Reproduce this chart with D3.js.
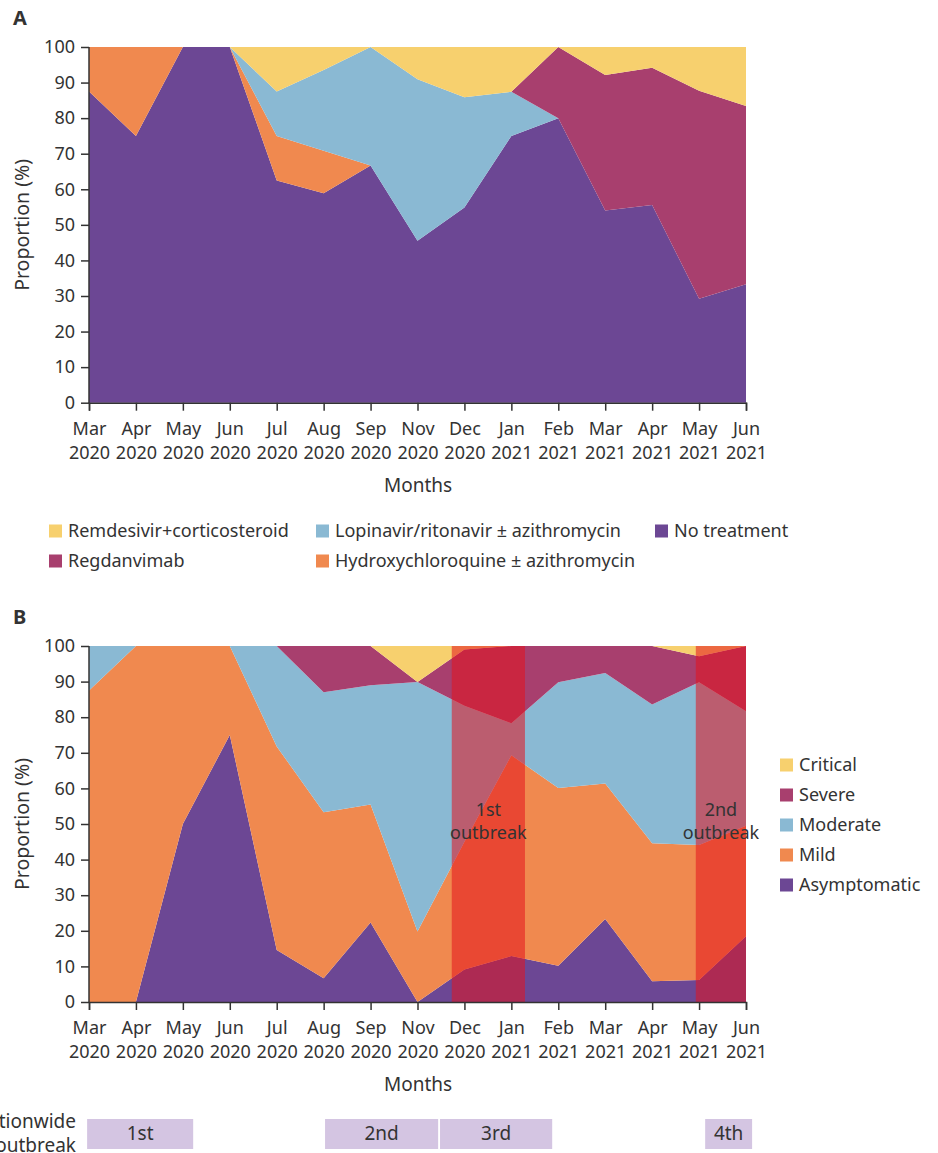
<!DOCTYPE html>
<html>
<head>
<meta charset="utf-8">
<script src="https://cdn.jsdelivr.net/npm/d3@7"></script>
<style>
  body { margin: 0; background: #fff; }
  text { font-family: "Noto Sans", sans-serif; fill: #333; }
</style>
</head>
<body>
<script>
// 月份（两行标签）
var months = ["Mar", "Apr", "May", "Jun", "Jul", "Aug", "Sep", "Nov", "Dec", "Jan", "Feb", "Mar", "Apr", "May", "Jun"];
var years  = ["2020", "2020", "2020", "2020", "2020", "2020", "2020", "2020", "2020", "2021", "2021", "2021", "2021", "2021", "2021"];
var yTicks = [0, 10, 20, 30, 40, 50, 60, 70, 80, 90, 100];

// 图 A：治疗方式（%）
var noTreatment = [87.5, 75, 100, 100, 62.5, 58.9, 66.7, 45.5, 54.9, 75, 80, 54, 55.6, 29.2, 33.3];
var hcq         = [12.5, 25, 0, 0, 12.5, 11.9, 0, 0, 0, 0, 0, 0, 0, 0, 0];
var lopinavir   = [0, 0, 0, 0, 12.5, 22.7, 33.3, 45.4, 31, 12.4, 0, 0, 0, 0, 0];
var regdanvimab = [0, 0, 0, 0, 0, 0, 0, 0, 0, 0, 20, 38.1, 38.6, 58.5, 50.1];
var remdesivir  = [0, 0, 0, 0, 12.5, 6.5, 0, 9.1, 14.1, 12.6, 0, 7.9, 5.8, 12.3, 16.6];

// 图 B：严重程度（%）
var asymptomatic = [0, 0, 50, 75, 14.6, 6.7, 22.3, 0, 9.1, 12.9, 10.2, 23.3, 5.8, 6.2, 18.5];
var mild         = [87.5, 100, 50, 25, 57.2, 46.6, 33.2, 19.8, 35.9, 56.4, 49.9, 38.1, 38.8, 37.9, 31];
var moderate     = [12.5, 0, 0, 0, 28.2, 33.7, 33.5, 70.1, 38.2, 9, 29.7, 31, 39, 45.7, 32.2];
var severe       = [0, 0, 0, 0, 0, 13, 11, 0, 15.8, 21.7, 10.2, 7.6, 16.4, 7.3, 18.3];
var critical     = [0, 0, 0, 0, 0, 0, 0, 10.1, 1, 0, 0, 0, 0, 2.9, 0];

// 医院内暴发期（月份索引）
var outbreakStart = [7.73, 12.93];
var outbreakEnd   = [9.29, 14];
var outbreakName  = ["1st", "2nd"];

// 全国流行期（月份索引）
var waveStart = [-0.04, 5.03, 7.48, 13.13];
var waveEnd   = [2.22, 7.44, 9.87, 14.13];
var waveName  = ["1st", "2nd", "3rd", "4th"];

var C = {
  purple: "#6c4794", orange: "#f0894f", blue: "#8ab9d3",
  crimson: "#a83f6e", yellow: "#f7d06e"
};

var width = 938, height = 1153;
var svg = d3.select("body").append("svg")
  .attr("width", width).attr("height", height);

var x = d3.scaleLinear().domain([0, months.length - 1]).range([89, 746]);

function panel(top, bottom, keys, series, colors, letter) {
  var y = d3.scaleLinear().domain([0, 100]).range([bottom, top]);
  var g = svg.append("g");

  var rows = months.map(function(m, i) {
    var r = { i: i };
    keys.forEach(function(k, j) { r[k] = series[j][i]; });
    return r;
  });
  var stack = d3.stack().keys(keys)(rows);

  var area = d3.area()
    .x(function(d) { return x(d.data.i); })
    .y0(function(d) { return y(d[0]); })
    .y1(function(d) { return y(d[1]); });

  g.selectAll(".layer").data(stack).enter().append("path")
    .attr("d", area)
    .attr("fill", function(d, j) { return colors[j]; });

  // 字母
  svg.append("text").attr("x", 13).attr("y", top - 22)
    .style("font-weight", "bold").style("font-size", "20px").text(letter);

  g.draw = function() {
    var yAxis = d3.axisLeft(y).tickValues(yTicks).tickSize(8).tickPadding(6);
    var ya = svg.append("g").attr("transform", "translate(89,0)").call(yAxis);
    var xAxis = d3.axisBottom(x).tickValues(d3.range(months.length)).tickSize(8).tickFormat("");
    var xa = svg.append("g").attr("transform", "translate(0," + bottom + ")").call(xAxis);
    [ya, xa].forEach(function(a) {
      a.select(".domain").attr("stroke", "#333").attr("stroke-width", 1.5);
      a.selectAll(".tick line").attr("stroke", "#333").attr("stroke-width", 1.5);
      a.selectAll("text").style("font-size", "18px").attr("fill", "#333");
    });
    ya.select(".domain").attr("d", "M0," + (bottom + 0.5) + "V" + top);
    xa.selectAll(".tick").each(function(d) {
      var t = d3.select(this).append("text").attr("text-anchor", "middle")
        .style("font-size", "18px").attr("fill", "#333");
      t.append("tspan").attr("x", 0).attr("y", 32).text(months[d]);
      t.append("tspan").attr("x", 0).attr("y", 56).text(years[d]);
    });
    svg.append("text").attr("x", 418).attr("y", bottom + 89)
      .attr("text-anchor", "middle").style("font-size", "19px").text("Months");
    svg.append("text")
      .attr("transform", "translate(29," + ((top + bottom) / 2) + ") rotate(-90)")
      .attr("text-anchor", "middle").style("font-size", "19.5px").text("Proportion (%)");
  };
  return g;
}

// ---- 图 A ----
var pa = panel(47, 402.7,
  ["none", "hcq", "lop", "reg", "rem"],
  [noTreatment, hcq, lopinavir, regdanvimab, remdesivir],
  [C.purple, C.orange, C.blue, C.crimson, C.yellow], "A");
pa.draw();

var legA = [
  ["Remdesivir+corticosteroid", C.yellow, 49, 531],
  ["Lopinavir/ritonavir \u00b1 azithromycin", C.blue, 316, 531],
  ["No treatment", C.purple, 655, 531],
  ["Regdanvimab", C.crimson, 49, 561],
  ["Hydroxychloroquine \u00b1 azithromycin", C.orange, 316, 561]
];
legA.forEach(function(l) {
  svg.append("rect").attr("x", l[2]).attr("y", l[3] - 6.5)
    .attr("width", 13).attr("height", 13).attr("fill", l[1]);
  svg.append("text").attr("x", l[2] + 19).attr("y", l[3] + 6)
    .style("font-size", "18px").text(l[0]);
});

// ---- 图 B ----
var pb = panel(646, 1002,
  ["asym", "mild", "mod", "sev", "crit"],
  [asymptomatic, mild, moderate, severe, critical],
  [C.purple, C.orange, C.blue, C.crimson, C.yellow], "B");

// 暴发期红色遮罩
outbreakName.forEach(function(n, i) {
  var x0 = x(outbreakStart[i]), x1 = x(outbreakEnd[i]);
  svg.append("rect").attr("x", x0).attr("y", 646)
    .attr("width", x1 - x0).attr("height", 1002 - 646)
    .attr("fill", "rgb(228,18,30)").attr("opacity", 0.55);
  var t = svg.append("text").attr("text-anchor", "middle").style("font-size", "18px");
  t.append("tspan").attr("x", (x0 + x1) / 2).attr("y", 816).text(n);
  t.append("tspan").attr("x", (x0 + x1) / 2).attr("y", 839).text("outbreak");
});
pb.draw();

var legB = [["Critical", C.yellow], ["Severe", C.crimson], ["Moderate", C.blue],
            ["Mild", C.orange], ["Asymptomatic", C.purple]];
legB.forEach(function(l, i) {
  var cy = 765 + i * 30;
  svg.append("rect").attr("x", 780).attr("y", cy - 6.5)
    .attr("width", 13).attr("height", 13).attr("fill", l[1]);
  svg.append("text").attr("x", 799).attr("y", cy + 6)
    .style("font-size", "18px").text(l[0]);
});

// 全国流行期
var nt = svg.append("text").attr("text-anchor", "end").style("font-size", "19px");
nt.append("tspan").attr("x", 76).attr("y", 1128).text("Nationwide");
nt.append("tspan").attr("x", 76).attr("y", 1152).text("outbreak");
waveName.forEach(function(n, i) {
  var x0 = x(waveStart[i]), x1 = x(waveEnd[i]);
  svg.append("rect").attr("x", x0).attr("y", 1119)
    .attr("width", x1 - x0).attr("height", 30).attr("fill", "#d4c5e2");
  svg.append("text").attr("x", (x0 + x1) / 2).attr("y", 1140)
    .attr("text-anchor", "middle").style("font-size", "19px").text(n);
});
</script>
</body>
</html>
